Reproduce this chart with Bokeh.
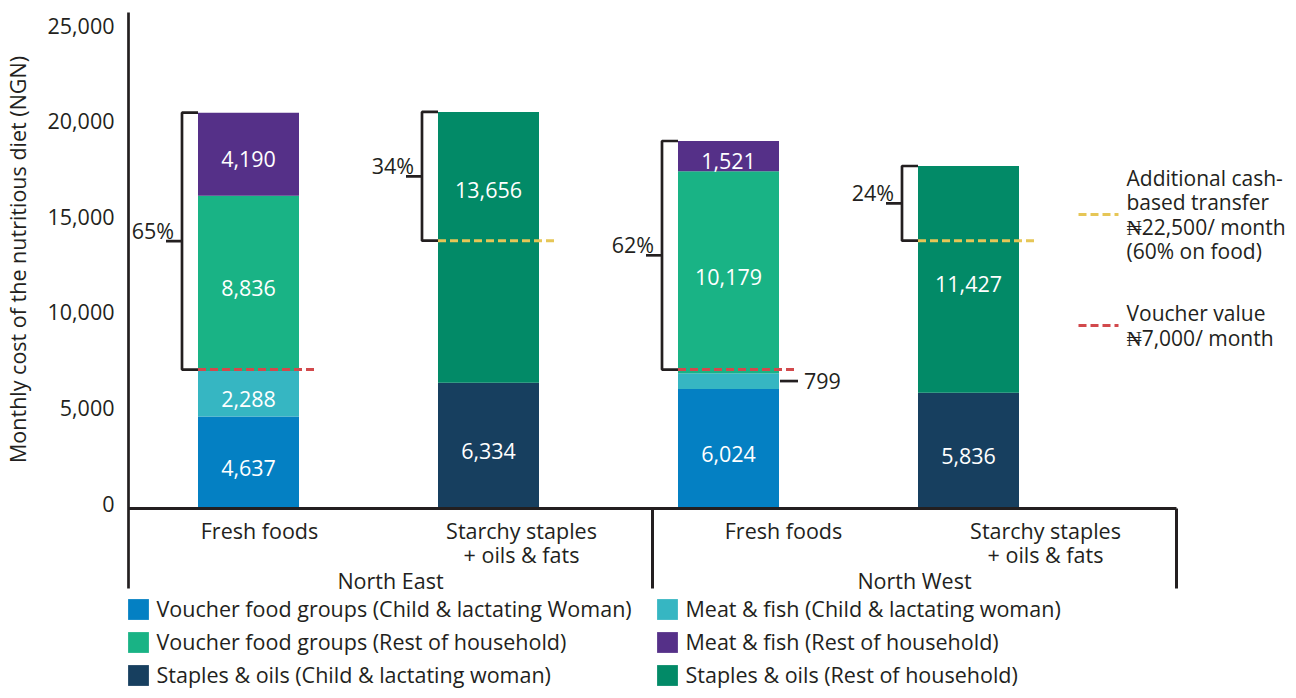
import math
from bokeh.plotting import figure
from bokeh.models import (Range1d, LinearAxis, FixedTicker, NumeralTickFormatter,
                          Legend, LegendItem, ColumnDataSource)
from bokeh.core.properties import value
from bokeh.embed import file_html
from bokeh.resources import INLINE

# ---------------- data ----------------
regions = ["North East", "North West"]
bar_regions = ["North East", "North East", "North West", "North West"]
bar_groups = ["Fresh foods", "Starchy staples\n+ oils & fats", "Fresh foods", "Starchy staples\n+ oils & fats"]

series_labels = [
    "Voucher food groups (Child & lactating Woman)",
    "Meat & fish (Child & lactating woman)",
    "Voucher food groups (Rest of household)",
    "Meat & fish (Rest of household)",
    "Staples & oils (Child & lactating woman)",
    "Staples & oils (Rest of household)",
]
voucher_child = [4637, 0, 6024, 0]
meat_child = [2288, 0, 799, 0]
voucher_rest = [8836, 0, 10179, 0]
meat_rest = [4190, 0, 1521, 0]
staples_child = [0, 6334, 0, 5836]
staples_rest = [0, 13656, 0, 11427]

voucher_value = 7000          # NGN / month
cash_transfer = 22500         # NGN / month
cash_food_share = 0.60
bar_transfer = ["voucher", "cash", "voucher", "cash"]
gap_labels = ["65%", "34%", "62%", "24%"]
y_ticks = [0, 5000, 10000, 15000, 20000, 25000]

transfer_labels = {
    "cash": "Additional cash-\nbased transfer\n\u20a622,500/ month\n(60% on food)",
    "voucher": "Voucher value\n\u20a67,000/ month",
}

# ---------------- style / layout ----------------
series_colors = ["#0480c3", "#36b6c2", "#19b385", "#553088", "#173f5f", "#028a67"]
DARK = "#231f20"
RED = "#d2494c"
YELLOW = "#e6c656"
FONT = "Open Sans"
FS = "21.5px"
FS_KEY = "21px"

W, H = 1288, 690
AX_X = 128          # px of value axis
CAT_PX = 262        # px per category on the category axis
BAR_SLOT_PX = 240   # px per bar slot
BAR_W_PX = 101
ZERO_Y = 508        # px of value 0 (bars)
TOP_Y = 12          # px of 25,000 (bars)
K = (ZERO_Y - TOP_Y) / 25000.0
T_ZERO_Y = 503      # tick labels scale
T_TOP_Y = 25
K2 = (T_ZERO_Y - T_TOP_Y) / 25000.0
AXIS_FLOOR_Y = 588  # px where the category axis frame ends


def xu(px):
    return (px - AX_X) / CAT_PX


def yu(py):
    return (ZERO_Y - py) / K


def dxu(n):
    return n / CAT_PX


p = figure(width=W, height=H, x_range=Range1d(xu(0), xu(W)), y_range=Range1d(yu(H), yu(0)),
           toolbar_location=None, output_backend="svg", x_axis_location=None, y_axis_location=None,
           min_border=0, min_border_left=0, min_border_right=0, min_border_top=0, min_border_bottom=0,
           outline_line_color=None, background_fill_color="white", border_fill_color="white")
p.grid.visible = False
p.extra_y_ranges = {"ticks": Range1d(-(H - T_ZERO_Y) / K2, T_ZERO_Y / K2)}

# ---------------- bars ----------------
n = len(bar_groups)
bar_x = [(i + 0.5) * BAR_SLOT_PX / CAT_PX for i in range(n)]
bar_w = dxu(BAR_W_PX)
series = [voucher_child, meat_child, voucher_rest, meat_rest, staples_child, staples_rest]
keys = ["s%d" % j for j in range(len(series))]
src = ColumnDataSource(dict(x=bar_x, **{k: v for k, v in zip(keys, series)}))
rends = p.vbar_stack(keys, x="x", width=bar_w, source=src, fill_color=series_colors,
                     line_color=None)

# segment labels
in_x, in_y, in_t, in_off = [], [], [], []
out_x0, out_x1, out_y, out_t = [], [], [], []
label_nudge = {(1, 5): -57}
totals = []
for i in range(n):
    base = 0
    for j, s in enumerate(series):
        v = s[i]
        if v > 0:
            mid = base + v / 2.0
            if v >= 1000:
                in_x.append(bar_x[i]); in_y.append(mid); in_t.append(f"{v:,}")
                in_off.append(label_nudge.get((i, j), 5))
            else:
                out_x0.append(bar_x[i] + bar_w / 2 + dxu(1))
                out_x1.append(bar_x[i] + bar_w / 2 + dxu(19))
                out_y.append(mid); out_t.append(f"{v:,}")
        base += v
    totals.append(base)

p.text(x=in_x, y=in_y, text=in_t, y_offset=in_off, text_align="center", text_baseline="middle",
       text_color="white", text_font=value(FONT), text_font_size=FS)
p.segment(x0=out_x0, x1=out_x1, y0=out_y, y1=out_y, line_color=DARK, line_width=2.7)
p.text(x=out_x1, y=out_y, text=out_t, x_offset=6, text_align="left", text_baseline="middle",
       text_color=DARK, text_font=value(FONT), text_font_size=FS)

# ---------------- transfer lines & brackets ----------------
ref_value = {"voucher": voucher_value, "cash": cash_transfer * cash_food_share}
ref_color = {"voucher": RED, "cash": YELLOW}
for i in range(n):
    kind = bar_transfer[i]
    ref = ref_value[kind]
    left = bar_x[i] - bar_w / 2
    right = bar_x[i] + bar_w / 2
    xv = left - dxu(16)
    top = totals[i]
    p.line(x=[left, xv, xv, left], y=[top, top, ref, ref], line_color=DARK, line_width=2.7)
    mid = (top + ref) / 2.0
    p.segment(x0=[xv - dxu(16)], x1=[xv], y0=[mid], y1=[mid], line_color=DARK, line_width=2.7)
    p.text(x=[xv], y=[mid], text=[gap_labels[i]], x_offset=-8, y_offset=-11,
           text_align="right", text_baseline="middle", text_color=DARK,
           text_font=value(FONT), text_font_size=FS)
    p.segment(x0=[left], x1=[right + dxu(17)], y0=[ref], y1=[ref], line_color=ref_color[kind],
              line_width=3, line_dash="8 4")

# right-hand key for the transfer lines
for kind, py in (("cash", 214), ("voucher", 325)):
    p.segment(x0=[xu(1078)], x1=[xu(1118)], y0=[yu(py)], y1=[yu(py)], line_color=ref_color[kind],
              line_width=3, line_dash="8 4")
    p.text(x=[xu(1126)], y=[yu(py)], text=[transfer_labels[kind]], text_align="left",
           text_baseline="middle", text_color=DARK, text_font=value(FONT), text_font_size=FS_KEY,
           text_line_height=0.88)

# ---------------- axes ----------------
cat_ticks = [i + 0.5 for i in range(n)]
xaxis = LinearAxis(ticker=FixedTicker(ticks=cat_ticks),
                   major_label_overrides={t: g for t, g in zip(cat_ticks, bar_groups)},
                   fixed_location=0, bounds=(0, n), axis_line_color=DARK, axis_line_width=3,
                   major_tick_line_color=None, minor_tick_line_color=None, major_tick_out=0,
                   major_tick_in=0, major_label_standoff=7, major_label_text_font=FONT,
                   major_label_text_font_size=FS, major_label_text_color=DARK,
                   major_label_text_line_height=0.83)
p.add_layout(xaxis, "below")

grp_ticks = [1.0, 3.0]
gaxis = LinearAxis(ticker=FixedTicker(ticks=grp_ticks),
                   major_label_overrides={t: r for t, r in zip(grp_ticks, regions)},
                   fixed_location=0, axis_line_color=None,
                   major_tick_line_color=None, minor_tick_line_color=None, major_tick_out=0,
                   major_tick_in=0, major_label_standoff=57, major_label_text_font=FONT,
                   major_label_text_font_size=FS, major_label_text_color=DARK)
p.add_layout(gaxis, "below")

# category-axis frame lines (group separator + right end)
p.segment(x0=[2.0, 4.0], x1=[2.0, 4.0], y0=[0, 0], y1=[yu(AXIS_FLOOR_Y)] * 2,
          line_color=DARK, line_width=3)

yaxis = LinearAxis(y_range_name="ticks", ticker=FixedTicker(ticks=y_ticks),
                   formatter=NumeralTickFormatter(format="0,0"), fixed_location=0,
                   bounds=(-(AXIS_FLOOR_Y - T_ZERO_Y) / K2, (T_ZERO_Y - TOP_Y) / K2),
                   axis_line_color=DARK, axis_line_width=2.7,
                   major_tick_line_color=None, minor_tick_line_color=None, major_tick_out=0,
                   major_tick_in=0, major_label_standoff=14, major_label_text_font=FONT,
                   major_label_text_font_size=FS, major_label_text_color=DARK)
p.add_layout(yaxis, "left")

p.text(x=[xu(17)], y=[yu(259)], text=["Monthly cost of the nutritious diet (NGN)"], angle=math.pi / 2,
       text_align="center", text_baseline="middle", text_color=DARK, text_font=value(FONT),
       text_font_size=FS)

# ---------------- legend (filled column by column) ----------------
order = [0, 2, 4, 1, 3, 5]
legend = Legend(items=[LegendItem(label=series_labels[j], renderers=[rends[j]]) for j in order],
                location=(AX_X - 3.5, 1), orientation="vertical", ncols=2,
                glyph_width=26, glyph_height=26, label_standoff=6, spacing=4, label_width=493,
                margin=0, padding=0, border_line_color=None, background_fill_alpha=0,
                label_text_font=FONT, label_text_font_size=FS, label_text_color=DARK)
p.add_layout(legend)

open("out.html", "w").write(file_html(p, INLINE))
